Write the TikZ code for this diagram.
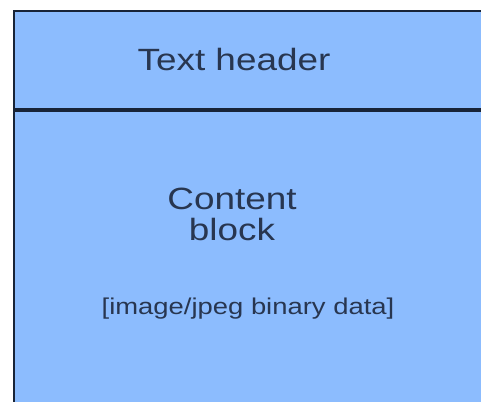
\documentclass[tikz,border=0pt]{standalone}
\usepackage{fontspec}
\setmainfont{Liberation Sans}
\usepackage{tikz}
\usetikzlibrary{positioning}
\definecolor{boxfill}{RGB}{140,188,254}
\definecolor{boxline}{RGB}{24,36,56}
\definecolor{boxtext}{RGB}{40,54,80}
\tikzstyle{part} = [rectangle, draw=boxline, fill=boxfill, line width=1.2pt, inner sep=0pt, anchor=north west]
\tikzstyle{label} = [text=boxtext, inner sep=0pt, xscale=1.2, transform shape, align=center]

\begin{document}
\begin{tikzpicture}
  \useasboundingbox (0,0) rectangle (9.62,-8.02);
  \clip (0,0) rectangle (9.62,-8.02);
  % Khung
  \node[part, minimum width=9.7cm, minimum height=1.96cm] (header) at (0.26,-0.2) {};
  \node[part, minimum width=9.7cm, minimum height=6.6cm] (content) at (header.south west) {};

  % Chu
  \node[label, anchor=base, font=\fontsize{17.5pt}{21pt}\selectfont] (headtext) at (4.68,-1.40) {Text header};
  \node[label, anchor=base, font=\fontsize{17.5pt}{17.6pt}\selectfont, text height=12pt] (blocktext) at (4.64,-4.80) {Content\\block};
  \node[label, anchor=base, font=\fontsize{13pt}{15pt}\selectfont] (datatext) at (4.96,-6.28) {[image/jpeg binary data]};
\end{tikzpicture}
\end{document}
